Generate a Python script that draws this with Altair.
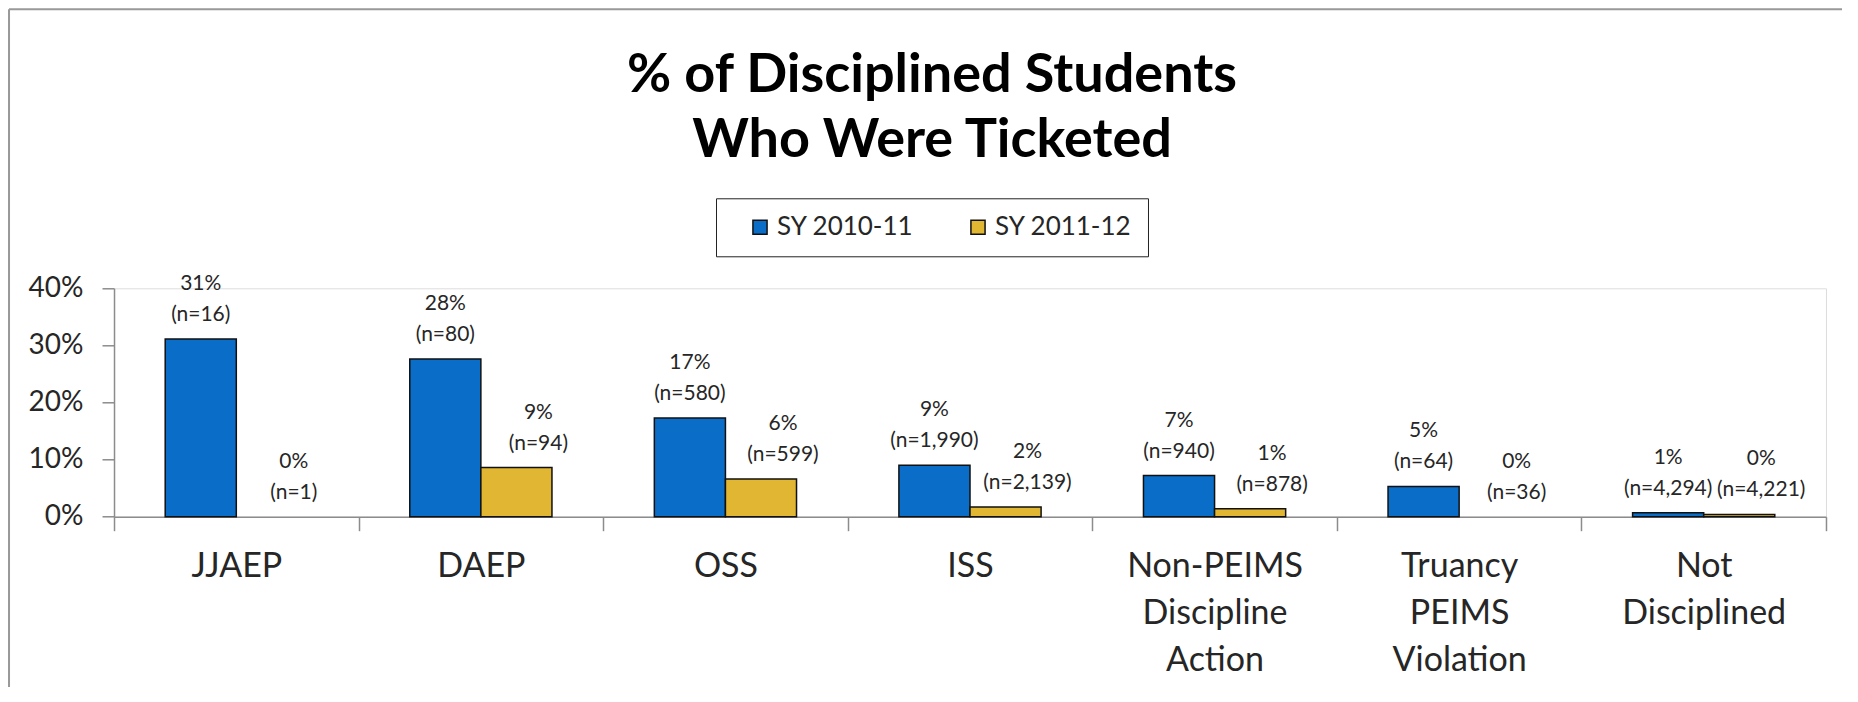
import altair as alt
import pandas as pd

FONT = "Lato"

categories = ["JJAEP", "DAEP", "OSS", "ISS", "Non-PEIMS Discipline Action",
              "Truancy PEIMS Violation", "Not Disciplined"]
series = ["SY 2010-11", "SY 2011-12"]
pct_2010 = [31.1, 27.6, 17.3, 9.0, 7.2, 5.3, 0.7]
pct_2011 = [0.0, 8.6, 6.6, 1.7, 1.4, 0.0, 0.4]
label_2010 = ["31%", "28%", "17%", "9%", "7%", "5%", "1%"]
label_2011 = ["0%", "9%", "6%", "2%", "1%", "0%", "0%"]
n_2010 = [16, 80, 580, 1990, 940, 64, 4294]
n_2011 = [1, 94, 599, 2139, 878, 36, 4221]
colors = ["#0A6EC8", "#E0B632"]

rows = []
for i, c in enumerate(categories):
    rows.append(dict(cat=c, series=series[0], value=pct_2010[i] / 100,
                     label=f"{label_2010[i]}\n(n={n_2010[i]:,})"))
    rows.append(dict(cat=c, series=series[1], value=pct_2011[i] / 100,
                     label=f"{label_2011[i]}\n(n={n_2011[i]:,})"))
df = pd.DataFrame(rows)

AX = "#8c8c8c"
TXT = "#262626"

x = alt.X("cat:N", sort=categories,
          scale=alt.Scale(paddingInner=0, paddingOuter=0),
          axis=alt.Axis(title=None, labelAngle=0, labelExpr="split(datum.label, ' ')",
                        tickBand="extent", tickSize=14, labelFontSize=34,
                        labelLineHeight=47, labelPadding=19, labelFont=FONT,
                        labelColor=TXT, domainColor=AX, tickColor=AX,
                        domainWidth=1.5, tickWidth=1.5, labelLimit=400))
xo = alt.XOffset("series:N", sort=series,
                 scale=alt.Scale(domain=series, paddingInner=0, paddingOuter=0.72))
y = alt.Y("value:Q", scale=alt.Scale(domain=[0, 0.4], nice=False),
          axis=alt.Axis(values=[0, 0.1, 0.2, 0.3, 0.4], format=".0%", title=None,
                        grid=False, tickSize=12, labelPadding=19, labelFontSize=28,
                        labelFont=FONT, labelColor=TXT, domainColor=AX,
                        tickColor=AX, domainWidth=1.5, tickWidth=1.5))
color = alt.Color("series:N", sort=series,
                  scale=alt.Scale(domain=series, range=colors),
                  legend=alt.Legend(title=None, orient="none", legendX=602, legendY=-90,
                                    direction="horizontal", strokeColor="#222",
                                    padding=16, symbolType="square", symbolSize=200,
                                    symbolStrokeColor="#111", symbolStrokeWidth=1.5,
                                    labelFontSize=26, labelFont=FONT, labelColor=TXT,
                                    columnPadding=36, symbolOffset=15, labelOffset=4))

bars = alt.Chart(df).transform_filter("datum.value > 0").mark_bar(
    stroke="#111", strokeWidth=1.5).encode(x=x, xOffset=xo, y=y, color=color)

text_style = dict(lineBreak="\n", baseline="middle", dy=-55, fontSize=21,
                  lineHeight=31, font=FONT, color=TXT)
texts_a = alt.Chart(df).transform_filter(f"datum.series == '{series[0]}'").mark_text(
    **text_style).encode(x=x, xOffset=xo, y=y, text="label:N")
texts_b = alt.Chart(df).transform_filter(f"datum.series == '{series[1]}'").mark_text(
    dx=22, **text_style).encode(x=x, xOffset=xo, y=y, text="label:N")

frame_df = pd.DataFrame({"k": [0]})
left_line = alt.Chart(frame_df).mark_rule(color="#999", strokeWidth=2).encode(
    x=alt.value(-105), y=alt.value(-279), y2=alt.value(420))
top_line = alt.Chart(frame_df).mark_rule(color="#999", strokeWidth=2).encode(
    x=alt.value(-105), x2=alt.value(1740), y=alt.value(-279))

chart = alt.layer(bars, texts_a, texts_b, left_line, top_line).properties(
    width=1712, height=228.4,
    padding={"left": 106, "top": 280.3, "right": 16, "bottom": 170},
    autosize=alt.AutoSizeParams(type="none"),
    title=alt.TitleParams(text=["% of Disciplined Students", "Who Were Ticketed"],
                          fontSize=54, font=FONT, fontWeight="bold", anchor="middle",
                          lineHeight=65, offset=-160, dx=-38, color="#000"),
).configure_view(stroke=None).configure(background="white")

chart.save("out.html", embed_options={"renderer": "svg", "actions": False})
